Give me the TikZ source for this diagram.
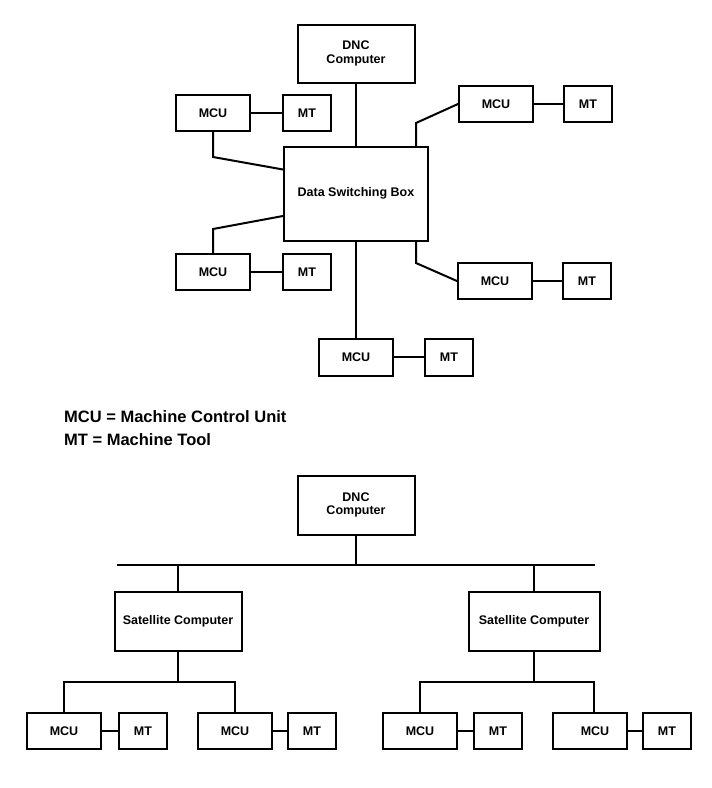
\documentclass[tikz,border=0pt]{standalone}
\usepackage{fontspec}
\setmainfont{Liberation Sans}
\begin{document}
\begin{tikzpicture}[x=1pt,y=-1pt,
  box/.style={draw, line width=2pt, inner sep=0pt, align=center,
    font=\fontsize{12.5}{13.5}\selectfont\bfseries},
  mcubox/.style={box, minimum width=74pt, minimum height=36pt},
  mtbox/.style={box, minimum width=48pt, minimum height=36pt},
  link/.style={line width=2pt, line cap=rect},
  legend/.style={anchor=base west, inner sep=0pt,
    font=\fontsize{16.5}{18}\selectfont\bfseries}]
\useasboundingbox (0,0) rectangle (712,788);

% ---------- top diagram ----------
\node[box, minimum width=117pt, minimum height=58pt] (dnc1) at (356,53.5) {DNC\\Computer};
\node[box, minimum width=144pt, minimum height=94pt] (dsb) at (356,193.5) {Data Switching Box};

\node[mcubox] (mcu1) at (213,113) {MCU};
\node[mtbox]  (mt1)  at (307,113) {MT};
\node[mcubox] (mcu2) at (496,104) {MCU};
\node[mtbox]  (mt2)  at (588,104) {MT};
\node[mcubox] (mcu3) at (213,272) {MCU};
\node[mtbox]  (mt3)  at (307,272) {MT};
\node[mcubox] (mcu4) at (495,281) {MCU};
\node[mtbox]  (mt4)  at (587,281) {MT};
\node[mcubox, minimum height=37pt] (mcu5) at (356,357) {MCU};
\node[mtbox, minimum height=37pt]  (mt5)  at (449,357) {MT};

\coordinate (b1) at (213,157);
\coordinate (b2) at (416,123);
\coordinate (b3) at (213,229);
\coordinate (b4) at (416,263);

\draw[link] (dnc1.south) -- (dsb.north);
\draw[link] (mcu1.south) -- (b1) -- ([yshift=-24pt]dsb.north west);
\draw[link] (b2 |- dsb.north) -- (b2) -- (mcu2.west);
\draw[link] ([yshift=-70.5pt]dsb.north west) -- (b3) -- (mcu3.north);
\draw[link] (b4 |- dsb.south) -- (b4) -- (mcu4.west);
\draw[link] (dsb.south) -- (mcu5.north);

\draw[link] (mcu1.east) -- (mt1.west);
\draw[link] (mcu2.east) -- (mt2.west);
\draw[link] (mcu3.east) -- (mt3.west);
\draw[link] (mcu4.east) -- (mt4.west);
\draw[link] (mcu5.east) -- (mt5.west);

% ---------- legend ----------
\node[legend] (leg1) at (64,422) {MCU = Machine Control Unit};
\node[legend] (leg2) at (64,445) {MT = Machine Tool};

% ---------- bottom diagram ----------
\node[box, minimum width=117pt, minimum height=59pt] (dnc2) at (356,505) {DNC\\Computer};
\node[box, minimum width=127pt, minimum height=59pt] (sat1) at (178,621) {Satellite Computer};
\node[box, minimum width=131pt, minimum height=59pt] (sat2) at (534,621) {Satellite Computer};

\node[mcubox] (mcuA) at (64,731) {MCU};
\node[mtbox]  (mtA)  at (143,731) {MT};
\node[mcubox] (mcuB) at (235,731) {MCU};
\node[mtbox]  (mtB)  at (312,731) {MT};
\node[mcubox] (mcuC) at (420,731) {MCU};
\node[mtbox]  (mtC)  at (498,731) {MT};
\node[mcubox] (mcuD) at (590,731) {\hspace*{10pt}MCU};
\node[mtbox]  (mtD)  at (667,731) {MT};

\coordinate (busL) at (118,565);
\coordinate (busR) at (594,565);
\coordinate (sb1) at (178,682);
\coordinate (sb2) at (534,682);
\coordinate (dD) at (594,682);

\draw[link] (busL) -- (busR);
\draw[link] (dnc2.south) -- (dnc2.south |- busL);
\draw[link] (sat1.north |- busL) -- (sat1.north);
\draw[link] (sat2.north |- busL) -- (sat2.north);

\draw[link] (sat1.south) -- (sb1);
\draw[link] (mcuA.north) |- (sb1) -| (mcuB.north);
\draw[link] (sat2.south) -- (sb2);
\draw[link] (mcuC.north) |- (sb2) -- (dD) -- (dD |- mcuD.north);

\draw[link] (mcuA.east) -- (mtA.west);
\draw[link] (mcuB.east) -- (mtB.west);
\draw[link] (mcuC.east) -- (mtC.west);
\draw[link] (mcuD.east) -- (mtD.west);
\end{tikzpicture}
\end{document}
